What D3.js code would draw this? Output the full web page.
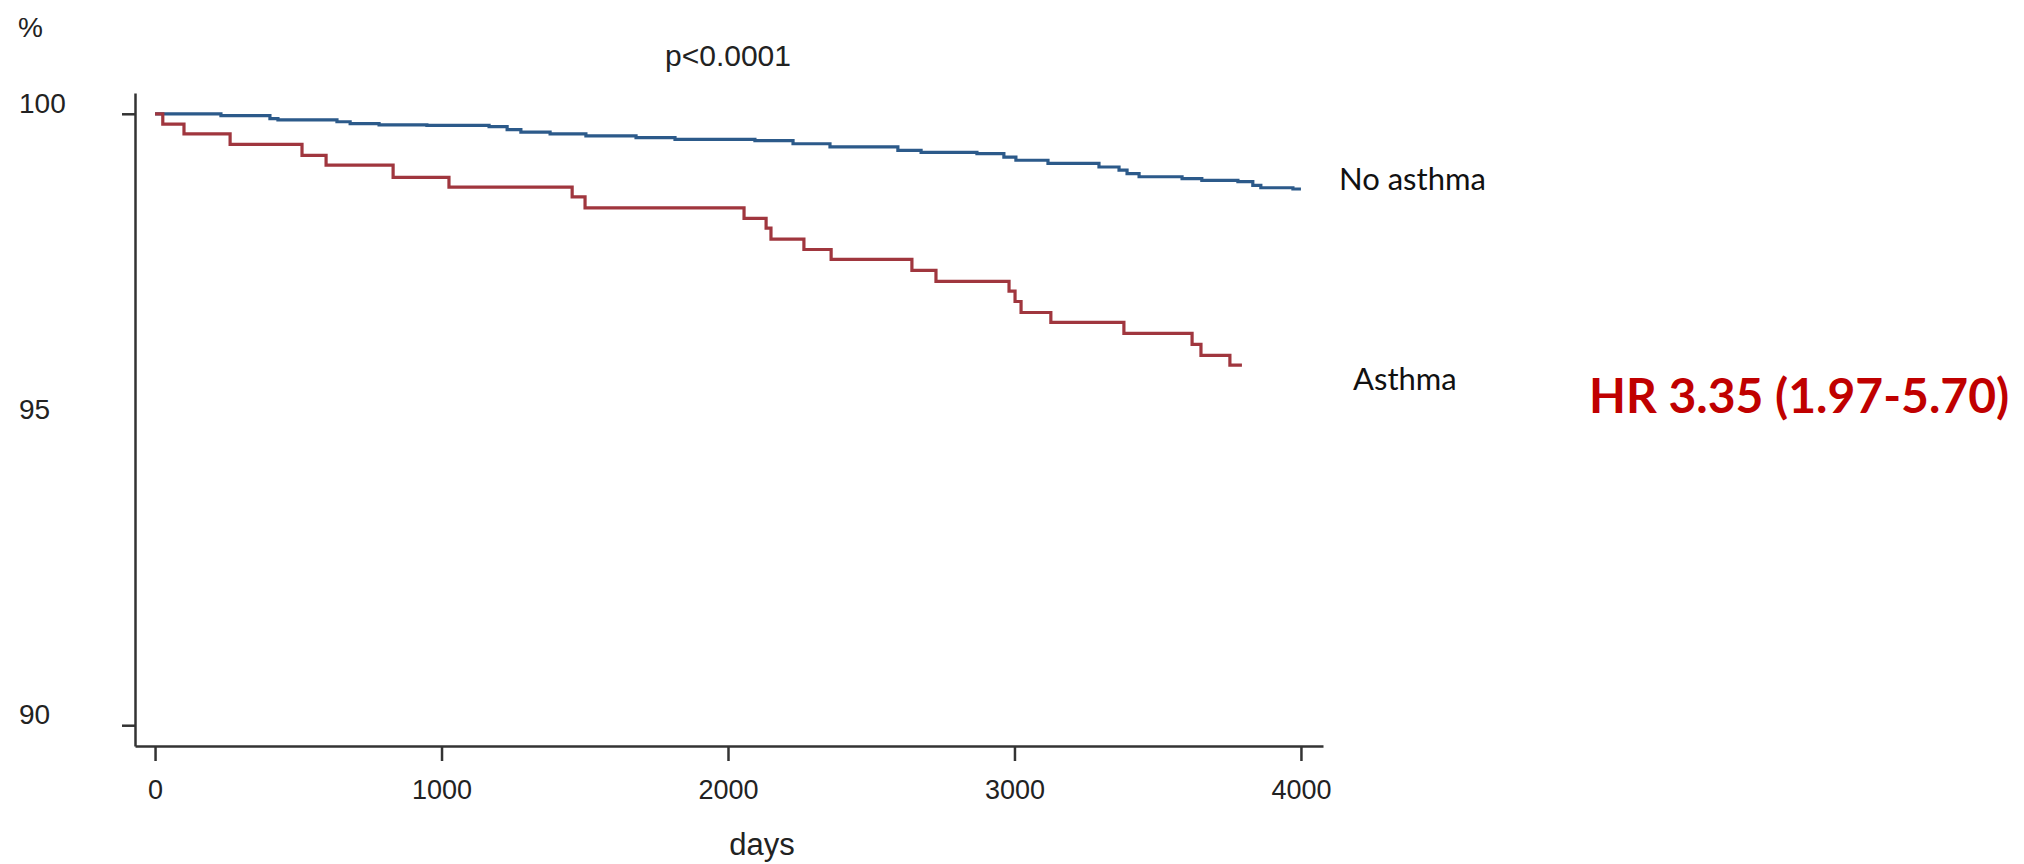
<!DOCTYPE html>
<html>
<head>
<meta charset="utf-8">
<script src="https://cdn.jsdelivr.net/npm/d3@7"></script>
<style>
  body { margin: 0; background: #fff; }
  svg { display: block; }
  .axis path, .axis line { stroke: #333; stroke-width: 2.5; }
  .axis text { font-family: 'Liberation Sans', Arial, sans-serif; fill: #222; }
</style>
</head>
<body>
<div id="plot"></div>
<script>
// Kaplan-Meier curves (days, % event free)
const asthmaDays = [0, 27, 101, 262, 513, 597, 831, 1026, 1456, 1501, 2056, 2133, 2150, 2265, 2360,
    2642, 2726, 2981, 3002, 3023, 3127, 3382, 3620, 3651, 3752, 3794];
const asthmaSurv = [100, 99.83, 99.67, 99.50, 99.32, 99.16, 98.96, 98.80, 98.64, 98.46, 98.29, 98.13, 97.95,
    97.78, 97.62, 97.44, 97.26, 97.10, 96.93, 96.75, 96.59, 96.41, 96.23, 96.05, 95.89, 95.89];

const noAsthmaDays = [0, 230, 401, 429, 635, 681, 782, 949, 1166, 1229, 1277, 1379, 1504, 1679, 1815,
    2094, 2227, 2356, 2593, 2674, 2869, 2963, 3005, 3117, 3295, 3365, 3393, 3435, 3585, 3654, 3780,
    3832, 3860, 3972, 4000];
const noAsthmaSurv = [100, 99.97, 99.92, 99.90, 99.87, 99.84, 99.82, 99.81, 99.79, 99.74, 99.70, 99.67,
    99.64, 99.61, 99.58, 99.56, 99.51, 99.46, 99.40, 99.37, 99.35, 99.29, 99.24, 99.19, 99.13, 99.08,
    99.02, 98.97, 98.94, 98.91, 98.89, 98.83, 98.79, 98.77, 98.77];

const xTicks = [0, 1000, 2000, 3000, 4000];
const yTicks = [90, 95, 100];
const yTickMarks = [90, 100];

const red = '#a0363e';
const blue = '#2c5a8a';

const width = 2024;
const height = 864;

const svg = d3.select('#plot')
    .append('svg')
    .attr('width', width)
    .attr('height', height);

// scales
const x = d3.scaleLinear().domain([-70, 4077]).range([135, 1323]);
const y = d3.scaleLinear().domain([89.66, 100.34]).range([746, 93]);

// x axis
const xAxis = svg.append('g')
    .attr('class', 'axis')
    .attr('transform', `translate(0, ${y(89.66)})`)
    .call(d3.axisBottom(x).tickValues(xTicks).tickFormat(d3.format('d'))
        .tickSize(15).tickSizeOuter(0).tickPadding(0));

xAxis.selectAll('text')
    .attr('y', 53)
    .attr('dy', 0)
    .style('font-size', '27px');

// y axis: ticks only at 90 and 100, labels also at 95
const yAxis = svg.append('g')
    .attr('class', 'axis')
    .attr('transform', `translate(${x(-70)}, 0)`)
    .call(d3.axisLeft(y).tickValues(yTicks).tickSize(13).tickSizeOuter(0));

yAxis.selectAll('.tick line')
    .filter(d => !yTickMarks.includes(d))
    .remove();

yAxis.selectAll('text')
    .attr('x', 19 - x(-70))
    .attr('y', -1.5)
    .attr('dy', 0)
    .attr('text-anchor', 'start')
    .style('font-size', '28px');

// curves
const line = d3.line()
    .x(d => x(d[0]))
    .y(d => y(d[1]))
    .curve(d3.curveStepAfter);

svg.append('path')
    .datum(noAsthmaDays.map((d, i) => [d, noAsthmaSurv[i]]))
    .attr('d', line)
    .attr('fill', 'none')
    .attr('stroke', blue)
    .attr('stroke-width', 3.2);

svg.append('path')
    .datum(asthmaDays.map((d, i) => [d, asthmaSurv[i]]))
    .attr('d', line)
    .attr('fill', 'none')
    .attr('stroke', red)
    .attr('stroke-width', 3.2);

// texts
const sans = "'Liberation Sans', Arial, sans-serif";

svg.append('text')
    .attr('x', 18).attr('y', 37)
    .style('font-family', sans).style('font-size', '28px').attr('fill', '#222')
    .text('%');

svg.append('text')
    .attr('x', 728).attr('y', 66)
    .attr('text-anchor', 'middle')
    .style('font-family', sans).style('font-size', '30px').attr('fill', '#222')
    .text('p<0.0001');

svg.append('text')
    .attr('x', 762).attr('y', 855)
    .attr('text-anchor', 'middle')
    .style('font-family', sans).style('font-size', '31px').attr('fill', '#222')
    .text('days');

svg.append('text')
    .attr('x', 1339).attr('y', 190)
    .style('font-family', 'Lato, sans-serif').style('font-size', '31px').attr('fill', '#111')
    .text('No asthma');

svg.append('text')
    .attr('x', 1353).attr('y', 390)
    .style('font-family', 'Lato, sans-serif').style('font-size', '31px').attr('fill', '#111')
    .text('Asthma');

svg.append('text')
    .attr('x', 1589).attr('y', 413)
    .style('font-family', 'Lato, sans-serif').style('font-size', '48px').style('font-weight', 'bold')
    .attr('fill', '#c00000')
    .text('HR 3.35 (1.97-5.70)');
</script>
</body>
</html>
